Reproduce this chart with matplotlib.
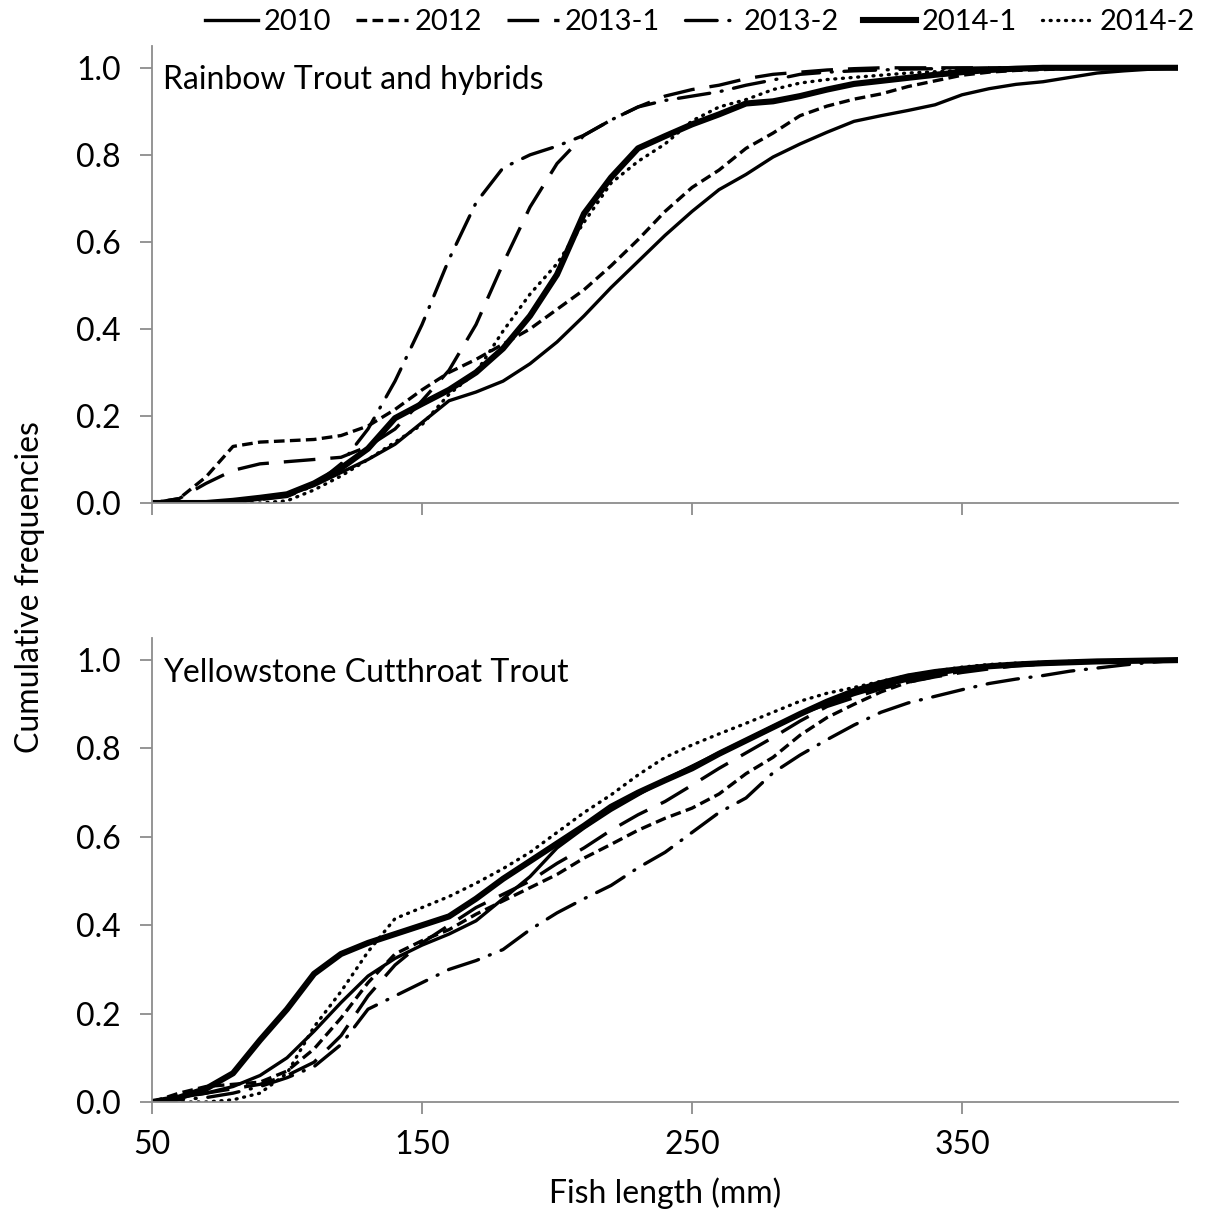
import matplotlib
matplotlib.use("Agg")
import matplotlib.pyplot as plt
from matplotlib.lines import Line2D

plt.rcParams['font.family'] = ['Lato', 'DejaVu Sans']

# ---------------- data ----------------
lengths = [50, 60, 70, 80, 90, 100, 110, 120, 130, 140, 150, 160, 170, 180, 190,
           200, 210, 220, 230, 240, 250, 260, 270, 280, 290, 300, 310, 320, 330,
           340, 350, 360, 370, 380, 390, 400, 410, 420, 430]

series_names = ["2010", "2012", "2013-1", "2013-2", "2014-1", "2014-2"]

# Rainbow Trout and hybrids
rbt_2010 = [0, 0, 0, 0.005, 0.01, 0.018, 0.04, 0.07, 0.10, 0.135, 0.185, 0.235, 0.255, 0.28, 0.32,
            0.37, 0.43, 0.495, 0.555, 0.615, 0.67, 0.72, 0.755, 0.795, 0.825, 0.852, 0.877, 0.89, 0.902,
            0.915, 0.938, 0.952, 0.962, 0.968, 0.978, 0.988, 0.993, 0.997, 1.0]
rbt_2012 = [0, 0.01, 0.06, 0.13, 0.14, 0.143, 0.146, 0.155, 0.177, 0.215, 0.26, 0.30, 0.33, 0.365, 0.40,
            0.445, 0.49, 0.545, 0.605, 0.67, 0.725, 0.765, 0.815, 0.85, 0.89, 0.912, 0.928, 0.94, 0.957,
            0.97, 0.983, 0.99, 0.994, 0.996, 0.998, 1.0, 1.0, 1.0, 1.0]
rbt_2013_1 = [0, 0.01, 0.045, 0.075, 0.09, 0.095, 0.10, 0.105, 0.13, 0.17, 0.235, 0.305, 0.41, 0.55, 0.68,
              0.78, 0.845, 0.88, 0.91, 0.935, 0.95, 0.96, 0.975, 0.985, 0.99, 0.995, 0.998, 1.0, 1.0,
              1.0, 1.0, 1.0, 1.0, 1.0, 1.0, 1.0, 1.0, 1.0, 1.0]
rbt_2013_2 = [0, 0, 0, 0.003, 0.008, 0.015, 0.04, 0.09, 0.17, 0.28, 0.41, 0.56, 0.69, 0.77, 0.80,
              0.82, 0.845, 0.88, 0.91, 0.925, 0.935, 0.945, 0.96, 0.972, 0.985, 0.99, 0.993, 0.995, 0.997,
              0.998, 0.999, 1.0, 1.0, 1.0, 1.0, 1.0, 1.0, 1.0, 1.0]
rbt_2014_1 = [0, 0, 0, 0.005, 0.012, 0.02, 0.045, 0.08, 0.125, 0.195, 0.228, 0.26, 0.30, 0.355, 0.43,
              0.525, 0.665, 0.748, 0.815, 0.843, 0.87, 0.893, 0.918, 0.923, 0.935, 0.95, 0.963, 0.97, 0.977,
              0.984, 0.99, 0.995, 0.998, 1.0, 1.0, 1.0, 1.0, 1.0, 1.0]
rbt_2014_2 = [0, 0, 0, 0, 0, 0.005, 0.03, 0.062, 0.10, 0.14, 0.18, 0.25, 0.30, 0.395, 0.48,
              0.55, 0.645, 0.735, 0.785, 0.825, 0.878, 0.91, 0.927, 0.95, 0.965, 0.973, 0.978, 0.983, 0.988,
              0.991, 0.994, 0.997, 0.999, 1.0, 1.0, 1.0, 1.0, 1.0, 1.0]

# Yellowstone Cutthroat Trout
yct_2010 = [0, 0.01, 0.02, 0.035, 0.06, 0.10, 0.16, 0.225, 0.285, 0.325, 0.355, 0.38, 0.41, 0.46, 0.51,
            0.575, 0.62, 0.66, 0.695, 0.73, 0.76, 0.79, 0.82, 0.85, 0.878, 0.9, 0.922, 0.94, 0.955,
            0.968, 0.978, 0.985, 0.99, 0.993, 0.995, 0.997, 0.998, 0.999, 1.0]
yct_2012 = [0, 0.02, 0.035, 0.04, 0.045, 0.07, 0.12, 0.19, 0.27, 0.335, 0.365, 0.39, 0.425, 0.455, 0.485,
            0.515, 0.552, 0.583, 0.615, 0.642, 0.665, 0.697, 0.743, 0.78, 0.83, 0.87, 0.90, 0.928, 0.95,
            0.963, 0.975, 0.985, 0.99, 0.993, 0.995, 0.997, 0.998, 0.999, 1.0]
yct_2013_1 = [0, 0.01, 0.02, 0.03, 0.04, 0.06, 0.09, 0.15, 0.24, 0.31, 0.36, 0.40, 0.44, 0.47, 0.50,
              0.54, 0.575, 0.615, 0.65, 0.68, 0.717, 0.755, 0.79, 0.825, 0.862, 0.895, 0.915, 0.935, 0.95,
              0.962, 0.972, 0.98, 0.987, 0.991, 0.994, 0.996, 0.998, 0.999, 1.0]
yct_2013_2 = [0, 0.005, 0.01, 0.02, 0.035, 0.055, 0.08, 0.13, 0.21, 0.24, 0.27, 0.30, 0.32, 0.345, 0.39,
              0.428, 0.46, 0.49, 0.53, 0.565, 0.61, 0.655, 0.688, 0.745, 0.785, 0.82, 0.853, 0.882, 0.903,
              0.918, 0.933, 0.947, 0.957, 0.965, 0.975, 0.982, 0.989, 0.995, 1.0]
yct_2014_1 = [0, 0.01, 0.03, 0.065, 0.14, 0.21, 0.29, 0.335, 0.36, 0.38, 0.40, 0.42, 0.46, 0.505, 0.545,
              0.585, 0.625, 0.668, 0.70, 0.728, 0.755, 0.788, 0.818, 0.848, 0.878, 0.906, 0.93, 0.948, 0.963,
              0.973, 0.98, 0.986, 0.99, 0.993, 0.995, 0.997, 0.998, 0.999, 1.0]
yct_2014_2 = [0, 0, 0, 0.005, 0.02, 0.065, 0.17, 0.25, 0.34, 0.415, 0.44, 0.465, 0.495, 0.528, 0.565,
              0.61, 0.655, 0.695, 0.74, 0.78, 0.808, 0.833, 0.857, 0.882, 0.907, 0.925, 0.938, 0.952, 0.965,
              0.975, 0.984, 0.99, 0.993, 0.995, 0.997, 0.998, 0.999, 1.0, 1.0]

panel_titles = ["Rainbow Trout and hybrids", "Yellowstone Cutthroat Trout"]
x_ticks = [50, 150, 250, 350]
y_ticks = [0.0, 0.2, 0.4, 0.6, 0.8, 1.0]

# ---------------- styles ----------------
thin = 2.4
thick = 4.4
styles = [
    dict(lw=thin, ls='-'),
    dict(lw=thin, ls=(0, (3.2, 1.6))),
    dict(lw=thin, ls=(0, (9.5, 4.5))),
    dict(lw=thin, ls=(0, (9.5, 3.5, 0.3, 3.5)), dash_capstyle='round'),
    dict(lw=thick, ls='-'),
    dict(lw=thin, ls=(0, (0.3, 2.0)), dash_capstyle='round'),
]

fs = 23
leg_fs = 21
spine_col = '#8c8c8c'

fig = plt.figure(figsize=(12.18, 12.15), dpi=100)
ax_top = fig.add_axes([0.1248, 0.5860, 0.8424, 0.3761])
ax_bot = fig.add_axes([0.1248, 0.0930, 0.8424, 0.3819])

panels = [
    (ax_top, [rbt_2010, rbt_2012, rbt_2013_1, rbt_2013_2, rbt_2014_1, rbt_2014_2]),
    (ax_bot, [yct_2010, yct_2012, yct_2013_1, yct_2013_2, yct_2014_1, yct_2014_2]),
]

for (ax, data), title in zip(panels, panel_titles):
    for name, vals, st in zip(series_names, data, styles):
        ax.plot(lengths, vals, color='black', label=name, solid_joinstyle='round', **st)
    ax.set_xlim(50, 430)
    ax.set_ylim(0, 1.05)
    ax.set_xticks(x_ticks)
    ax.set_yticks(y_ticks)
    ax.set_yticklabels([f"{v:.1f}" for v in y_ticks])
    for s in ['top', 'right']:
        ax.spines[s].set_visible(False)
    for s in ['left', 'bottom']:
        ax.spines[s].set_color(spine_col)
        ax.spines[s].set_linewidth(1.3)
    ax.tick_params(axis='both', direction='out', length=8.5, width=1.3, color=spine_col,
                   labelsize=fs, labelcolor='black')
    ax.tick_params(axis='y', pad=14)
    ax.tick_params(axis='x', pad=12)
    ax.text(0.011, 0.925, title, transform=ax.transAxes, fontsize=fs, va='center', ha='left')

ax_top.set_xticklabels([])
ax_bot.set_xlabel("Fish length (mm)", fontsize=fs, labelpad=12)
fig.text(0.025, 0.517, "Cumulative frequencies", rotation=90, fontsize=fs,
         va='center', ha='center')

handles = [Line2D([0], [0], color='black', **st) for st in styles]
fig.legend(handles, series_names, loc='center', bbox_to_anchor=(0.575, 0.982), ncol=6,
           frameon=False, fontsize=leg_fs, handlelength=1.8, handletextpad=0.2,
           columnspacing=0.85, borderaxespad=0, borderpad=0)

fig.savefig("out.png", dpi=100)
